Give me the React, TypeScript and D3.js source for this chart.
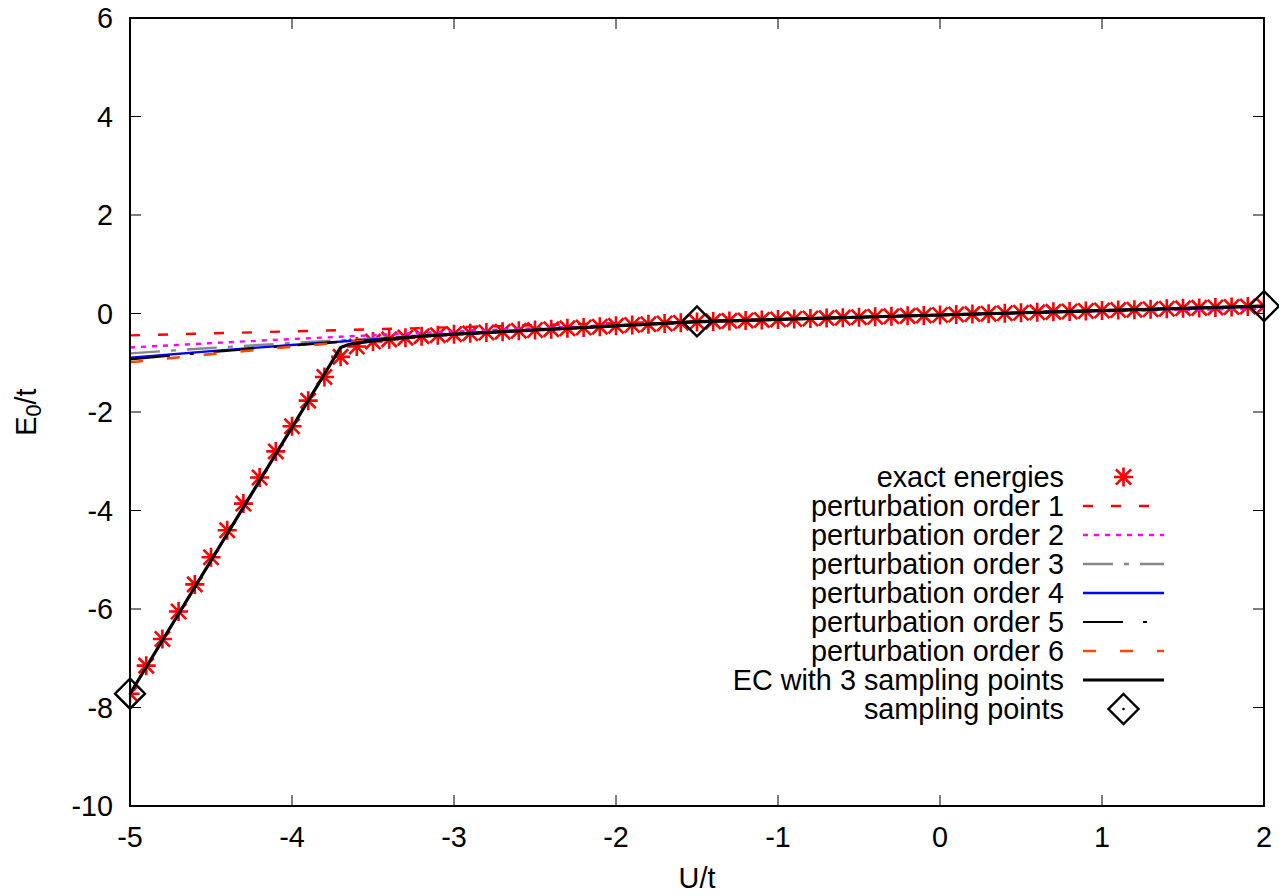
import React from 'react';
import * as d3 from 'd3';

const W = 1279;
const H = 896;
const PLOT = { left: 130, right: 1264, top: 18, bottom: 806 };

const X_DOMAIN = [-5, 2];
const Y_DOMAIN = [-10, 6];
const X_TICKS = [-5, -4, -3, -2, -1, 0, 1, 2];
const Y_TICKS = [-10, -8, -6, -4, -2, 0, 2, 4, 6];

// exact energies (red stars)
const U_EXACT = [
  -5.0, -4.9, -4.8, -4.7, -4.6, -4.5, -4.4, -4.3, -4.2, -4.1,
  -4.0, -3.9, -3.8, -3.7, -3.6, -3.5, -3.4, -3.3, -3.2, -3.1,
  -3.0, -2.9, -2.8, -2.7, -2.6, -2.5, -2.4, -2.3, -2.2, -2.1,
  -2.0, -1.9, -1.8, -1.7, -1.6, -1.5, -1.4, -1.3, -1.2, -1.1,
  -1.0, -0.9, -0.8, -0.7, -0.6, -0.5, -0.4, -0.3, -0.2, -0.1,
  0.0, 0.1, 0.2, 0.3, 0.4, 0.5, 0.6, 0.7, 0.8, 0.9,
  1.0, 1.1, 1.2, 1.3, 1.4, 1.5, 1.6, 1.7, 1.8, 1.9, 2.0,
];
const E_EXACT = [
  -7.72, -7.15, -6.61, -6.05, -5.5, -4.95, -4.4, -3.86, -3.33, -2.8,
  -2.29, -1.77, -1.29, -0.88, -0.67, -0.57, -0.525, -0.49, -0.46, -0.44,
  -0.42, -0.403, -0.386, -0.369, -0.352, -0.335, -0.318, -0.301, -0.284, -0.267,
  -0.25, -0.234, -0.218, -0.203, -0.188, -0.174, -0.16, -0.15, -0.14, -0.13,
  -0.12, -0.111, -0.102, -0.093, -0.084, -0.075, -0.066, -0.057, -0.048, -0.039,
  -0.03, -0.021, -0.012, -0.003, 0.006, 0.015, 0.024, 0.033, 0.042, 0.051,
  0.06, 0.069, 0.078, 0.087, 0.096, 0.105, 0.114, 0.123, 0.132, 0.141, 0.15,
];

// perturbation series
const U_P1 = [-5, -4, -3, -2, -1, 0, 1, 2];
const E_P1 = [-0.445, -0.362, -0.279, -0.196, -0.113, -0.03, 0.053, 0.136];

const U_P2 = [-5, -4.5, -4, -3.5, -3, -2.5, -2, -1.5, -1, -0.5, 0, 0.5, 1, 1.5, 2];
const E_P2 = [-0.69, -0.602, -0.519, -0.441, -0.367, -0.299, -0.235, -0.177, -0.123, -0.074, -0.03, 0.009, 0.043, 0.072, 0.097];

const U_PH = [-5, -4.5, -4, -3.5, -3, -2.5, -2, -1.5, -1, 0, 1, 2];
const E_P3 = [-0.81, -0.7, -0.6, -0.505, -0.415, -0.335, -0.25, -0.167, -0.12, -0.03, 0.06, 0.145];
const E_P4 = [-0.9, -0.765, -0.64, -0.525, -0.42, -0.335, -0.25, -0.165, -0.12, -0.03, 0.06, 0.15];
const E_P5 = [-0.93, -0.785, -0.65, -0.53, -0.42, -0.335, -0.25, -0.165, -0.12, -0.03, 0.06, 0.15];
const E_P6 = [-0.99, -0.825, -0.675, -0.54, -0.42, -0.335, -0.25, -0.165, -0.12, -0.03, 0.06, 0.15];

// eigenvector continuation
const U_EC = [-5, -3.7, -3.65, -3.6, -3.5, -3.4, -3.3, -3.2, -3.1, -3.0, -2.5, -2, -1.5, -1, 0, 1, 2];
const E_EC = [-7.72, -0.69, -0.63, -0.6, -0.555, -0.52, -0.49, -0.46, -0.44, -0.42, -0.335, -0.25, -0.165, -0.12, -0.03, 0.06, 0.15];

// sampling points
const U_SAMPLE = [-5, -1.5, 2];
const E_SAMPLE = [-7.72, -0.16, 0.15];

const LEGEND_LABELS = [
  'exact energies',
  'perturbation order 1',
  'perturbation order 2',
  'perturbation order 3',
  'perturbation order 4',
  'perturbation order 5',
  'perturbation order 6',
  'EC with 3 sampling points',
  'sampling points',
];

const FONT = '"Liberation Sans", Arial, Helvetica, sans-serif';
const FS = 28.8;

const zip = (a: number[], b: number[]) => a.map((v, i) => [v, b[i]] as [number, number]);

const STAR = (s: number) =>
  `M${-s},0H${s}M0,${-s}V${s}M${-s * 0.8},${-s * 0.8}L${s * 0.8},${s * 0.8}M${-s * 0.8},${s * 0.8}L${s * 0.8},${-s * 0.8}`;
const DIAMOND = (s: number) => `M0,${-s}L${s},0L0,${s}L${-s},0Z`;

export default function App() {
  const x = d3.scaleLinear().domain(X_DOMAIN).range([PLOT.left, PLOT.right]);
  const y = d3.scaleLinear().domain(Y_DOMAIN).range([PLOT.bottom, PLOT.top]);

  const smooth = d3.line<[number, number]>().x(d => x(d[0])).y(d => y(d[1])).curve(d3.curveMonotoneX);
  const straight = d3.line<[number, number]>().x(d => x(d[0])).y(d => y(d[1]));

  const series = [
    { d: smooth(zip(U_P1, E_P1)), color: '#ff0000', dash: '10,18', w: 2.4 },
    { d: smooth(zip(U_P2, E_P2)), color: '#ff00ff', dash: '5,6', w: 2.4 },
    { d: smooth(zip(U_PH, E_P3)), color: '#888888', dash: '30,11,5,11', w: 2.4 },
    { d: smooth(zip(U_PH, E_P4)), color: '#0000ff', dash: null, w: 2.4 },
    { d: smooth(zip(U_PH, E_P5)), color: '#000000', dash: '40,20,4,20', w: 2.2 },
    { d: smooth(zip(U_PH, E_P6)), color: '#ff4500', dash: '13,24', w: 2.6 },
  ];

  const tickLen = 11;
  const legendX = 1064;
  const legendY0 = 477;
  const legendDY = 29;
  const sampleX1 = 1083;
  const sampleX2 = 1164;
  const sampleMid = (sampleX1 + sampleX2) / 2;
  const starSize = 9.5;

  return (
    <svg width={W} height={H} style={{ position: 'absolute', left: 0, top: 0, background: '#fff' }}
      fontFamily={FONT}>
      <rect x={0} y={0} width={W} height={H} fill="#fff" />
      <defs>
        <clipPath id="plotclip">
          <rect x={PLOT.left} y={PLOT.top} width={PLOT.right - PLOT.left} height={PLOT.bottom - PLOT.top} />
        </clipPath>
      </defs>

      {/* ticks */}
      <g stroke="#000" strokeWidth={1}>
        {Y_TICKS.map(t => (
          <g key={'yt' + t}>
            <line x1={PLOT.left} x2={PLOT.left + tickLen} y1={y(t)} y2={y(t)} />
            <line x1={PLOT.right} x2={PLOT.right - tickLen} y1={y(t)} y2={y(t)} />
          </g>
        ))}
        {X_TICKS.map(t => (
          <g key={'xt' + t}>
            <line x1={x(t)} x2={x(t)} y1={PLOT.bottom} y2={PLOT.bottom - tickLen} />
            <line x1={x(t)} x2={x(t)} y1={PLOT.top} y2={PLOT.top + tickLen} />
          </g>
        ))}
      </g>

      {/* tick labels */}
      <g fontSize={FS} fill="#000">
        {Y_TICKS.map(t => (
          <text key={'yl' + t} x={PLOT.left - 17} y={y(t)} textAnchor="end" dominantBaseline="central">{t}</text>
        ))}
        {X_TICKS.map(t => (
          <text key={'xl' + t} x={x(t)} y={PLOT.bottom + 31} textAnchor="middle" dominantBaseline="central">{t}</text>
        ))}
      </g>

      {/* axis titles */}
      <text x={(PLOT.left + PLOT.right) / 2} y={878} fontSize={FS} textAnchor="middle" dominantBaseline="central">U/t</text>
      <text transform={`translate(26,${(PLOT.top + PLOT.bottom) / 2}) rotate(-90)`} fontSize={FS} textAnchor="middle" dominantBaseline="central">
        E<tspan fontSize={FS * 0.75} dy={7}>0</tspan><tspan dy={-7}>/t</tspan>
      </text>

      <g clipPath="url(#plotclip)">
        {/* exact stars */}
        <g stroke="#ff0000" strokeWidth={2.6} fill="none">
          {U_EXACT.map((u, i) => (
            <path key={'s' + i} d={STAR(starSize)} transform={`translate(${x(u)},${y(E_EXACT[i])})`} />
          ))}
        </g>
        {/* perturbation lines */}
        {series.map((s, i) => (
          <path key={'p' + i} d={s.d || ''} fill="none" stroke={s.color} strokeWidth={s.w}
            strokeDasharray={s.dash || undefined} />
        ))}
        {/* EC */}
        <path d={straight(zip(U_EC, E_EC)) || ''} fill="none" stroke="#000" strokeWidth={3.2} strokeLinejoin="round" />
      </g>
      {/* sampling points */}
      <g stroke="#000" strokeWidth={2.4} fill="none">
        {U_SAMPLE.map((u, i) => (
          <g key={'d' + i} transform={`translate(${x(u)},${y(E_SAMPLE[i])})`}>
            <path d={DIAMOND(15)} />
            <circle r={1.3} fill="#000" stroke="none" />
          </g>
        ))}
      </g>

      {/* border */}
      <rect x={PLOT.left} y={PLOT.top} width={PLOT.right - PLOT.left} height={PLOT.bottom - PLOT.top}
        fill="none" stroke="#000" strokeWidth={2} />

      {/* legend */}
      <g fontSize={FS}>
        {LEGEND_LABELS.map((lab, i) => (
          <text key={'lg' + i} x={legendX} y={legendY0 + i * legendDY} textAnchor="end" dominantBaseline="central">{lab}</text>
        ))}
        <path d={STAR(starSize)} transform={`translate(${sampleMid},${legendY0})`} stroke="#ff0000" strokeWidth={2.6} fill="none" />
        {series.map((s, i) => (
          <line key={'ls' + i} x1={sampleX1} x2={sampleX2} y1={legendY0 + (i + 1) * legendDY} y2={legendY0 + (i + 1) * legendDY}
            stroke={s.color} strokeWidth={s.w} strokeDasharray={s.dash || undefined} />
        ))}
        <line x1={sampleX1} x2={sampleX2} y1={legendY0 + 7 * legendDY} y2={legendY0 + 7 * legendDY} stroke="#000" strokeWidth={3.2} />
        <g transform={`translate(${sampleMid},${legendY0 + 8 * legendDY})`}>
          <path d={DIAMOND(15)} stroke="#000" strokeWidth={2.4} fill="none" />
          <circle r={1.3} fill="#000" />
        </g>
      </g>
    </svg>
  );
}
